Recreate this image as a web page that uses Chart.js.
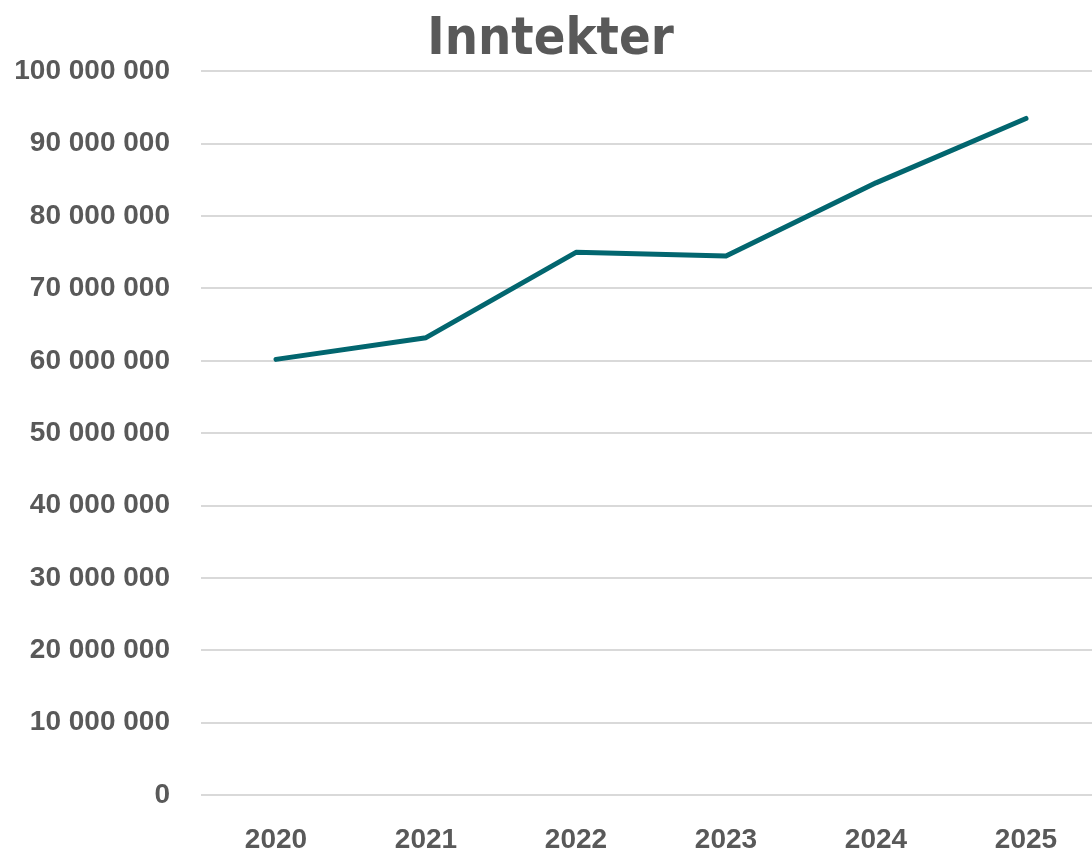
<!DOCTYPE html>
<html>
<head>
<meta charset="utf-8">
<script src="https://cdn.jsdelivr.net/npm/chart.js@4"></script>
<style>
    html, body { margin: 0; padding: 0; background: #fff; overflow: hidden; }
    #wrap { width: 1110px; height: 853px; }
</style>
</head>
<body>
<div id="wrap"><canvas id="chartInntekter"></canvas></div>
<script>
// Data
const years = ['2020', '2021', '2022', '2023', '2024', '2025'];
const inntekter = [60200000, 63200000, 75000000, 74500000, 84600000, 93500000];
const yTicks = [0, 10000000, 20000000, 30000000, 40000000, 50000000, 60000000, 70000000, 80000000, 90000000, 100000000];

const grey = '#595959';

// 100000000 -> "100 000 000"
function formatNok(value) {
    return String(value).replace(/\B(?=(\d{3})+(?!\d))/g, ' ');
}

const ctx = document.getElementById('chartInntekter');

new Chart(ctx, {
    type: 'line',
    data: {
        labels: years,
        datasets: [{
            label: 'Inntekter',
            data: inntekter,
            borderColor: '#02666F',
            borderWidth: 5,
            borderCapStyle: 'round',
            borderJoinStyle: 'round',
            pointRadius: 0,
            tension: 0,
            fill: false
        }]
    },
    options: {
        responsive: true,
        maintainAspectRatio: false,
        animation: false,
        layout: {
            padding: { top: 0, right: 9, bottom: 0, left: 0 }
        },
        plugins: {
            legend: { display: false },
            tooltip: { enabled: false },
            title: {
                display: true,
                text: 'Inntekter',
                color: grey,
                font: { family: "'DejaVu Sans Condensed', sans-serif", size: 52, weight: 'bold', lineHeight: 1.2 },
                padding: { top: 9, bottom: 0 }
            }
        },
        scales: {
            y: {
                min: 0,
                max: 100000000,
                afterBuildTicks: function(scale) {
                    scale.ticks = yTicks.map(v => ({ value: v }));
                },
                afterFit: function(scale) {
                    scale.width = 201;
                },
                ticks: {
                    color: grey,
                    padding: 31,
                    font: { family: "'Liberation Sans', Arial, sans-serif", size: 28, weight: 'bold' },
                    callback: function(value) {
                        return formatNok(value);
                    }
                },
                grid: {
                    color: '#d9d9d9',
                    lineWidth: 2,
                    drawTicks: false
                },
                border: { display: false }
            },
            x: {
                offset: true,
                afterFit: function(scale) {
                    scale.height = 58;
                },
                ticks: {
                    color: grey,
                    padding: 20,
                    maxRotation: 0,
                    font: { family: "'Liberation Sans', Arial, sans-serif", size: 28, weight: 'bold' }
                },
                grid: { display: false },
                border: { display: false }
            }
        }
    }
});
</script>
</body>
</html>
